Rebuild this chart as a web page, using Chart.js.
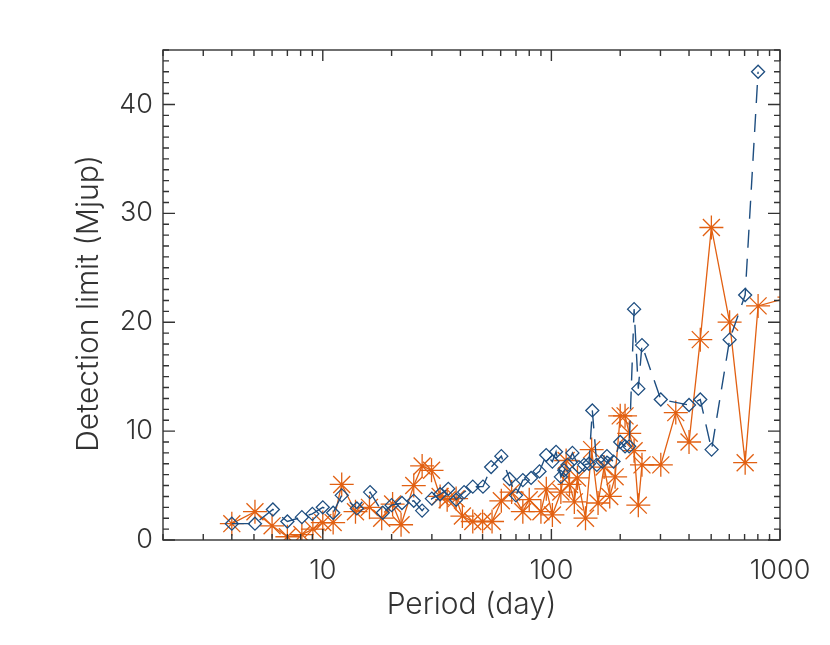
<!DOCTYPE html>
<html>
<head>
<meta charset="utf-8">
<script src="https://cdn.jsdelivr.net/npm/chart.js@4.4.1/dist/chart.umd.min.js"></script>
<style>
  html, body { margin: 0; padding: 0; background: #fff; }
  #wrap { width: 830px; height: 645px; }
</style>
</head>
<body>
<div id="wrap"><canvas id="grafico" width="830" height="645"></canvas></div>
<script>
// Serie azul (rombos, linea discontinua)
const bluePeriod = [4.0, 5.05, 6.05, 7.0, 8.1, 9.0, 10.0, 11.1, 12.1, 14.1, 16.1, 18.3, 20.0, 22.2, 25.0, 27.2, 30.0, 32.6, 35.4, 38.3,
  41.5, 45.3, 50.2, 54.5, 60.4, 65.6, 70, 75, 81.5, 88.7, 94.9, 101, 104.8, 110, 113.8, 117.6, 123.6, 132, 139, 146,
  151, 158, 167, 175, 187, 200, 210, 219, 230, 240, 249, 301, 400, 448, 502, 602, 704, 802];
const blueLimit = [1.5, 1.5, 2.8, 1.7, 2.1, 2.4, 3.0, 2.5, 4.1, 2.9, 4.4, 2.5, 3.2, 3.4, 3.6, 2.7, 3.8, 4.2, 4.7, 3.7,
  4.4, 4.9, 4.9, 6.7, 7.7, 5.6, 4.1, 5.5, 5.7, 6.3, 7.8, 7.2, 8.1, 5.8, 6.4, 6.9, 8.0, 6.7, 6.9, 7.0,
  11.9, 6.9, 7.2, 7.7, 7.2, 9.0, 8.6, 8.6, 21.2, 13.9, 17.9, 12.9, 12.4, 12.9, 8.3, 18.4, 22.5, 43.0];

// Serie naranja (asteriscos, linea continua)
const orangePeriod = [4.0, 5.05, 6.0, 7.0, 8.1, 9.05, 10.0, 11.1, 12.1, 13.9, 16.0, 18.1, 20.2, 22.0, 25.0, 27.2, 29.9, 32.6, 35.0, 38.3,
  40.8, 45.3, 50.0, 55.0, 60.4, 67, 75, 80, 90, 95, 101, 110, 116, 120, 126, 130, 141, 150, 160, 170,
  180, 190, 200, 210, 219, 230, 240, 249, 301, 350, 400, 448, 501, 602, 704, 802, 1100];
const orangeLimit = [1.5, 2.6, 1.3, 0.3, 0.5, 1.0, 1.6, 1.6, 5.1, 2.6, 3.0, 2.0, 3.3, 1.4, 5.0, 6.8, 6.4, 4.0, 3.7, 3.8,
  2.2, 1.7, 1.7, 1.7, 3.6, 4.4, 2.6, 3.7, 2.6, 4.7, 2.3, 4.4, 7.3, 5.1, 3.5, 5.7, 2.0, 8.3, 3.4, 6.7,
  4.0, 5.8, 11.4, 11.4, 9.8, 8.2, 3.2, 6.9, 6.9, 11.7, 9.0, 18.4, 28.7, 20.0, 7.1, 21.5, 22.3];

// Ejes
const xMajorTicks = [10, 100, 1000];
const yMajorTicks = [0, 10, 20, 30, 40];

const colorAzul = "rgb(30, 78, 128)";
const colorNaranja = "rgb(226, 96, 18)";
const colorEjes = "#333";
const colorTexto = "#333";

// Marco y marcas hacia dentro, estilo IDL
const marcoIDL = {
  id: "marcoIDL",
  afterDatasetsDraw(chart) {
    const { ctx, chartArea: a, scales: { x, y } } = chart;
    ctx.save();
    ctx.strokeStyle = colorEjes;
    ctx.lineWidth = 1.4;
    ctx.strokeRect(a.left, a.top, a.right - a.left, a.bottom - a.top);

    ctx.beginPath();
    for (let n = 0; n <= 3; n++) {
      for (let k = 1; k <= 9; k++) {
        const v = k * Math.pow(10, n);
        if (v < x.min || v > x.max) continue;
        const px = x.getPixelForValue(v);
        const len = k === 1 ? 11 : 6;
        ctx.moveTo(px, a.bottom); ctx.lineTo(px, a.bottom - len);
        ctx.moveTo(px, a.top); ctx.lineTo(px, a.top + len);
      }
    }
    for (let v = 0; v <= 45; v++) {
      const py = y.getPixelForValue(v);
      const len = v % 10 === 0 ? 12 : 6;
      ctx.moveTo(a.left, py); ctx.lineTo(a.left + len, py);
      ctx.moveTo(a.right, py); ctx.lineTo(a.right - len, py);
    }
    ctx.stroke();
    ctx.restore();
  }
};

const fuente = "Inter, 'DejaVu Sans', sans-serif";

new Chart(document.getElementById("grafico").getContext("2d"), {
  type: "scatter",
  data: {
    datasets: [
      {
        label: "orange",
        data: orangePeriod.map((p, i) => ({ x: p, y: orangeLimit[i] })),
        showLine: true,
        borderColor: colorNaranja,
        borderWidth: 1.3,
        pointStyle: "star",
        pointRadius: 12,
        pointBorderWidth: 1.3,
        pointBorderColor: colorNaranja,
        pointBackgroundColor: colorNaranja,
        order: 2
      },
      {
        label: "blue",
        data: bluePeriod.map((p, i) => ({ x: p, y: blueLimit[i] })),
        showLine: true,
        borderColor: colorAzul,
        borderWidth: 1.4,
        borderDash: [18, 11],
        pointStyle: "rectRot",
        pointRadius: 6.5,
        pointBorderWidth: 1.3,
        pointBorderColor: colorAzul,
        pointBackgroundColor: "rgba(0,0,0,0)",
        order: 1
      }
    ]
  },
  options: {
    responsive: false,
    animation: false,
    events: [],
    layout: { padding: { left: 0, right: 50, top: 50, bottom: 0 } },
    plugins: {
      legend: { display: false },
      tooltip: { enabled: false }
    },
    scales: {
      x: {
        type: "logarithmic",
        min: 2,
        max: 1000,
        afterFit: s => { s.height = 105; },
        afterBuildTicks: s => { s.ticks = xMajorTicks.map(v => ({ value: v })); },
        border: { display: false },
        grid: { display: false, drawTicks: false },
        ticks: {
          autoSkip: false,
          maxRotation: 0,
          padding: 15,
          color: colorTexto,
          font: { family: fuente, size: 27, weight: 300 },
          callback: v => String(v)
        },
        title: {
          display: true,
          text: "Period (day)",
          color: colorTexto,
          font: { family: fuente, size: 30, weight: 300 },
          padding: { top: 0, bottom: 22 }
        }
      },
      y: {
        min: 0,
        max: 45,
        afterFit: s => { s.width = 163; },
        afterBuildTicks: s => { s.ticks = yMajorTicks.map(v => ({ value: v })); },
        border: { display: false },
        grid: { display: false, drawTicks: false },
        ticks: {
          padding: 10,
          color: colorTexto,
          font: { family: fuente, size: 27, weight: 300 },
          callback: v => String(v)
        },
        title: {
          display: true,
          text: "Detection limit (Mjup)  ",
          color: colorTexto,
          font: { family: fuente, size: 30, weight: 300 },
          padding: { top: 71, bottom: 0 }
        }
      }
    }
  },
  plugins: [marcoIDL]
});
</script>
</body>
</html>
